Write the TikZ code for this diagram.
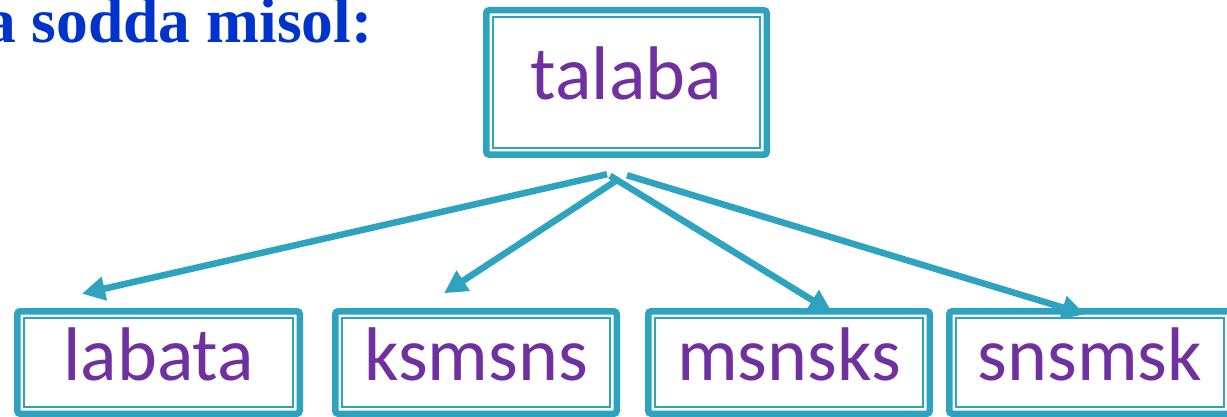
\documentclass[tikz,border=0pt]{standalone}
\usepackage{fontspec}
\setmainfont{Carlito}
\newfontfamily\titlefont{Liberation Serif}
\usetikzlibrary{arrows.meta}
\definecolor{tealc}{HTML}{2EA3BF}
\definecolor{purpc}{HTML}{7030A0}
\definecolor{bluec}{HTML}{0033CC}
\begin{document}
\begin{tikzpicture}[x=1pt,y=-1pt,
  termbox/.style={draw=tealc, line width=6.5pt, rounded corners=3pt, inner sep=0pt, outer sep=0pt,
    text=purpc, font=\fontsize{76}{82}\selectfont, text height=51pt, text depth=16pt,
    minimum height=102.5pt, minimum width=281.5pt,
    path picture={\draw[tealc, line width=2pt, sharp corners]
      ([shift={(6.5pt,-6.5pt)}]path picture bounding box.north west) rectangle
      ([shift={(-6.5pt,6.5pt)}]path picture bounding box.south east);}},
  link/.style={draw=tealc, line width=6.5pt, -{Triangle[length=23pt,width=23pt]}},
  titletext/.style={font=\titlefont\bfseries\fontsize{63.5}{70}\selectfont, text=bluec, anchor=base west, inner sep=0pt}]
\useasboundingbox (0,0) rectangle (1227,417);
\clip (0,0) rectangle (1227,417);
\fill[white] (0,0) rectangle (1227,417);

\node[titletext] (title) at (-16,43) {a sodda misol:};

\node[termbox, minimum width=280.5pt, minimum height=144.5pt] (talaba) at (626.5,82.5) {talaba};
\node[termbox, minimum width=282.5pt] (labata) at (158.5,362.5) {labata};
\node[termbox] (ksmsns) at (476,362.5) {ksmsns};
\node[termbox] (msnsks) at (789,362.5) {msnsks};
\node[termbox] (snsmsk) at (1090,362.5) {snsmsk};

\coordinate (s1) at ([shift={(-19.5,19.5)}]talaba.south);
\coordinate (s2) at ([shift={(-10.5,26)}]talaba.south);
\coordinate (s3) at ([shift={(-16.5,21)}]talaba.south);
\coordinate (s4) at ([shift={(0.5,20.5)}]talaba.south);
\coordinate (e1) at ([shift={(-76.5,-17.5)}]labata.north);
\coordinate (e2) at ([shift={(-32,-18)}]ksmsns.north);
\coordinate (e3) at ([shift={(43,1)}]msnsks.north);
\coordinate (e4) at ([shift={(-5,3)}]snsmsk.north);

\draw[link] (s1) -- (e1);
\draw[link] (s2) -- (e2);
\draw[link] (s3) -- (e3);
\draw[link] (s4) -- (e4);
\end{tikzpicture}
\end{document}
